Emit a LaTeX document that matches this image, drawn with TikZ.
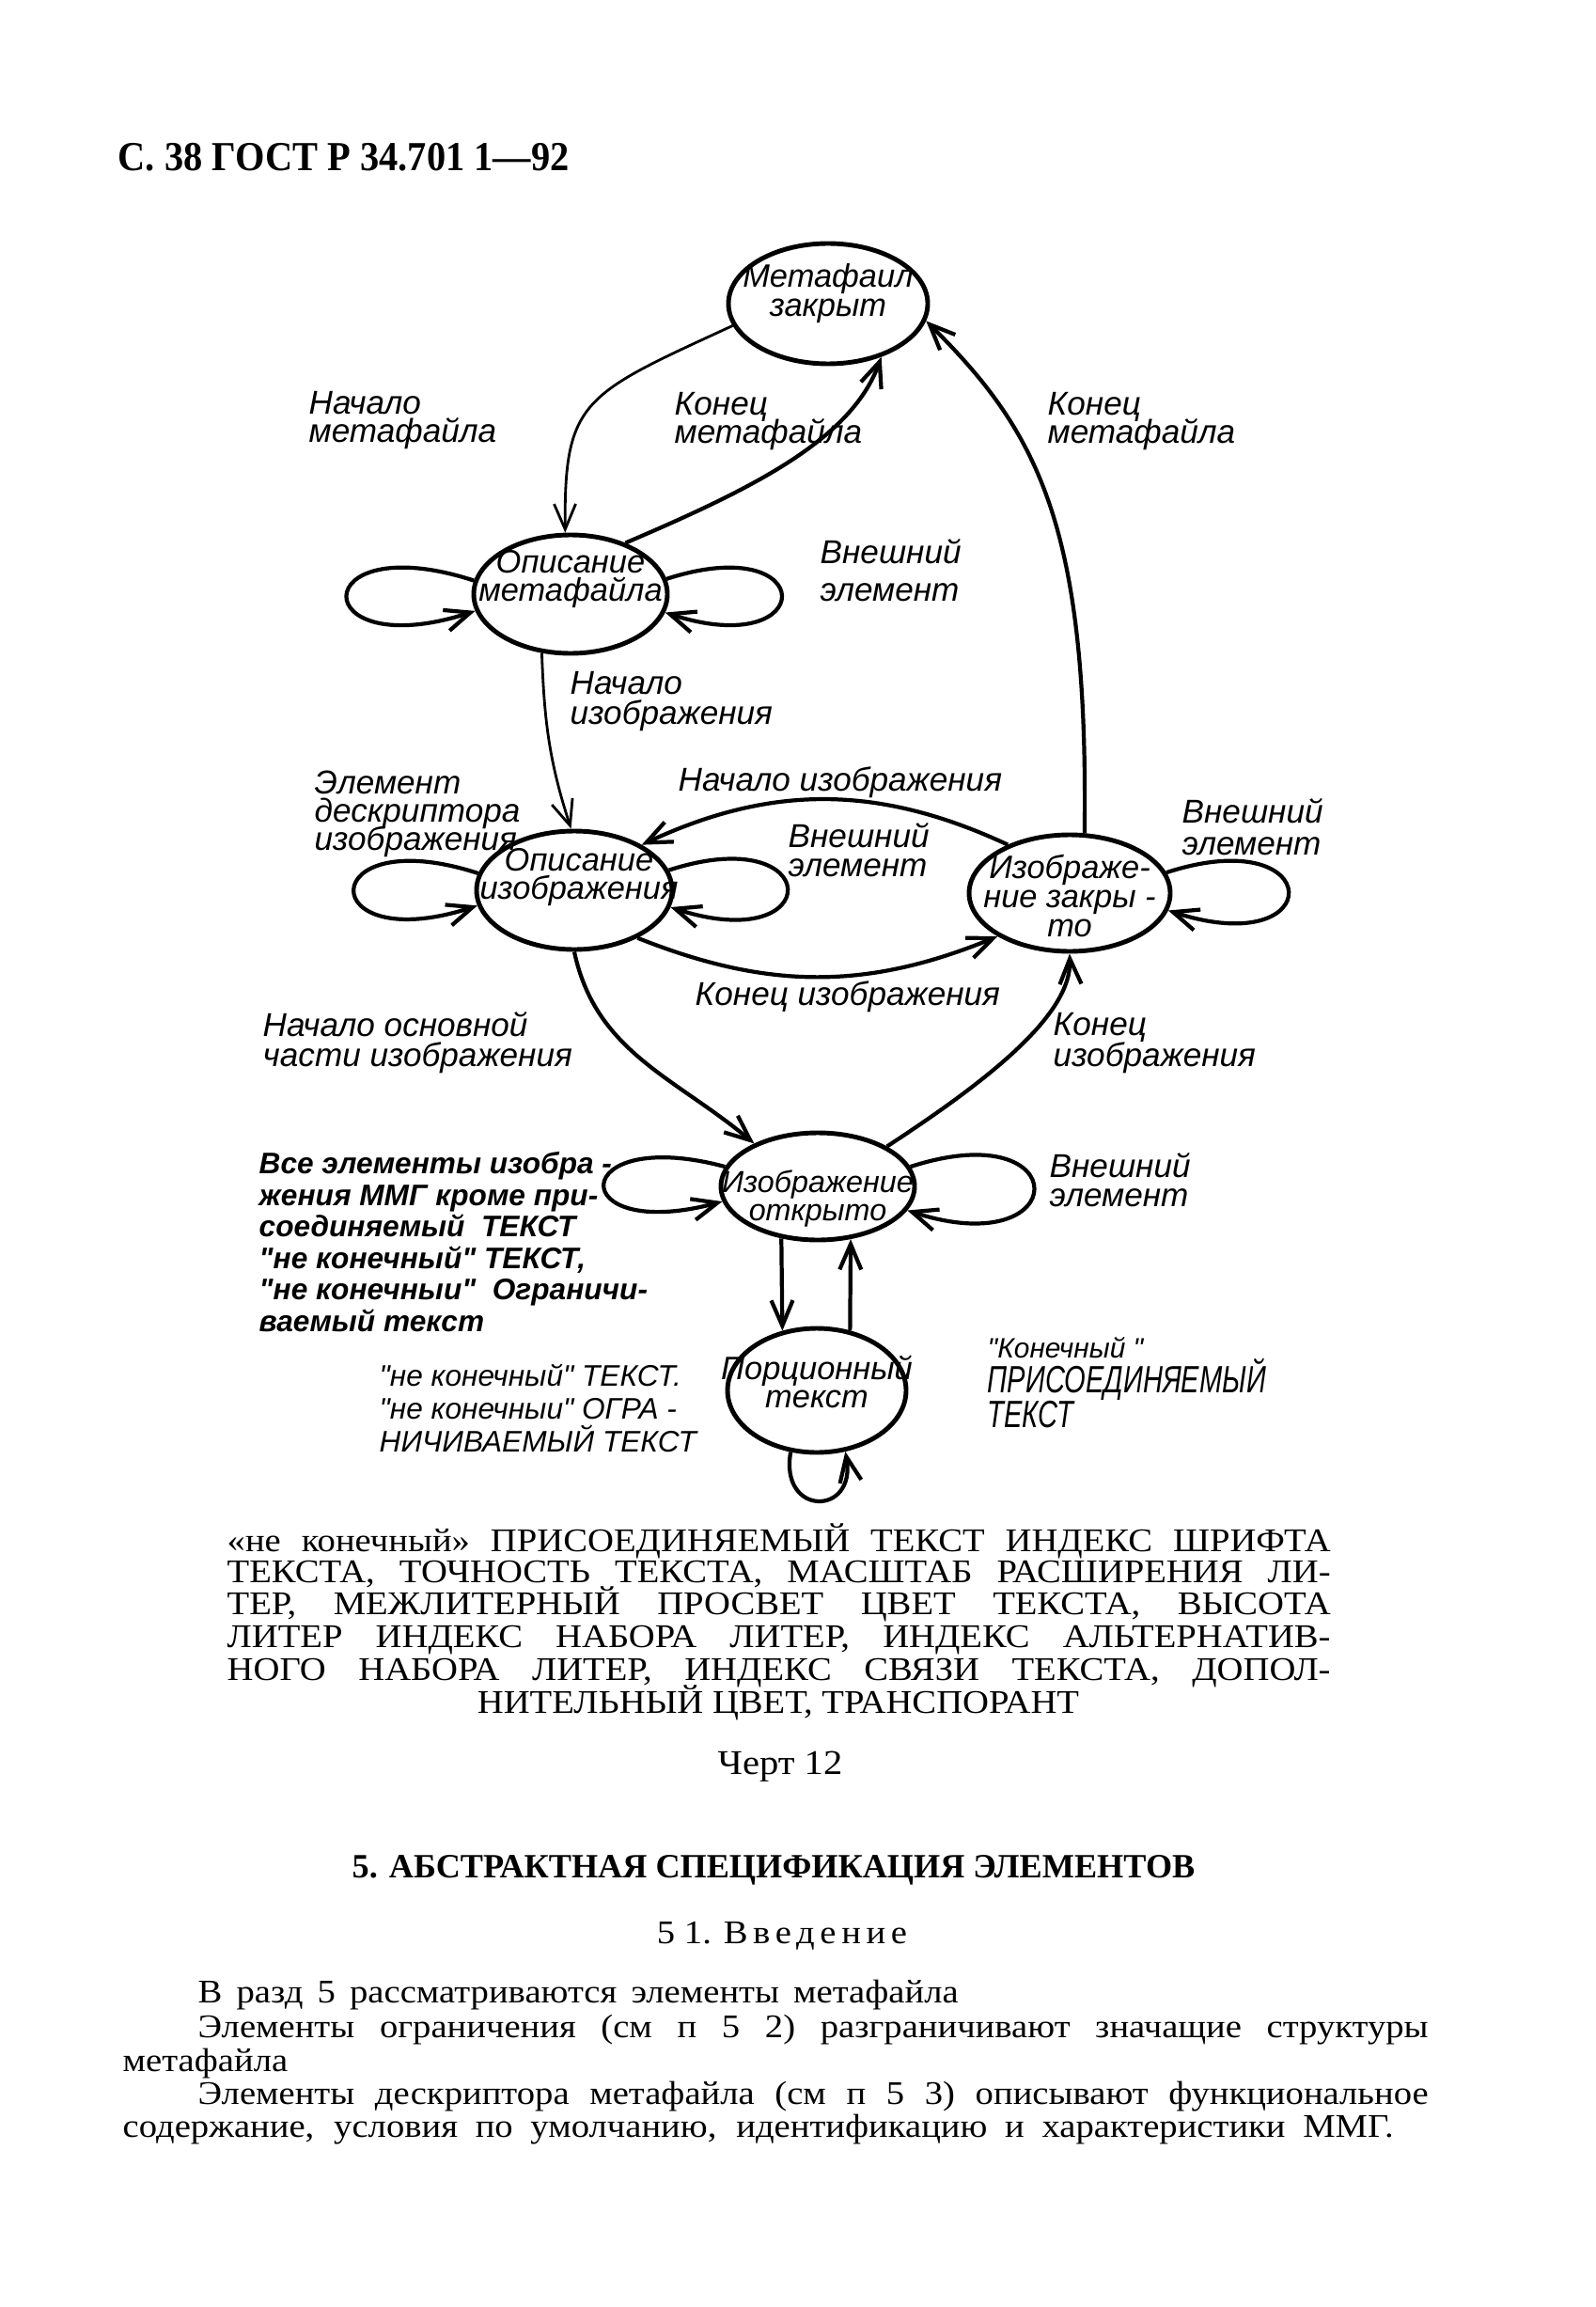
\documentclass[tikz,border=0pt]{standalone}
\usepackage{fontspec}
\setmainfont{Liberation Serif}
\newfontfamily\bodyfont{Liberation Serif}[FakeStretch=1.1]
\newfontfamily\pagefont{Liberation Serif}[FakeStretch=0.92]
\newfontfamily\gost{Liberation Sans}
\newfontfamily\gostnarrow{Liberation Sans}[FakeStretch=0.72]
\usetikzlibrary{shapes.geometric,arrows.meta}
\newcommand\gostfont[2]{\gost\itshape\fontsize{#1}{#2}\selectfont\lineskiplimit=-6pt}
\newcommand\bodytext[1]{\bodyfont\fontsize{#1}{11}\selectfont}

\begin{document}
\begin{tikzpicture}[>={Straight Barb[length=2.7mm,width=2.3mm]},
  state/.style={ellipse,draw,line width=1.4pt,inner sep=0pt},
  stext/.style={inner sep=0pt,align=center,font=\gostfont{9.8}{8.7}},
  trans/.style={->,line width=1.2pt},
  thintrans/.style={->,line width=0.8pt},
  note/.style={anchor=west,inner sep=0pt,align=left,font=\gostfont{10}{8.6}},
  textline/.style={anchor=base west,inner sep=0pt,font=\bodytext{10}}]
  \fill[white] (0,0) rectangle (16.98,-24.54);
  \useasboundingbox (0,0) rectangle (16.98,-24.54);

  \node[anchor=base west,inner sep=0pt,font=\pagefont\bfseries\fontsize{12.5}{14}\selectfont] (pagehead) at (1.25,-1.82) {С. 38 ГОСТ Р 34.701 1—92};

  \node[state,minimum width=21.2mm,minimum height=12.8mm] (mfclosed) at (8.81,-3.23) {};
  \node[state,minimum width=20.6mm,minimum height=12.6mm] (mfdesc) at (6.07,-6.32) {};
  \node[state,minimum width=20.8mm,minimum height=12.6mm] (picdesc) at (6.11,-9.47) {};
  \node[state,minimum width=21.4mm,minimum height=12.4mm] (picclosed) at (11.38,-9.50) {};
  \node[state,minimum width=20.6mm,minimum height=11.4mm] (picopen) at (8.70,-12.62) {};
  \node[state,minimum width=19.0mm,minimum height=13.2mm] (parttext) at (8.69,-14.79) {};

  \node[stext,yshift=1.1mm] (mfclosed-t) at (mfclosed) {Метафаил\\закрыт};
  \node[stext,yshift=1.6mm] (mfdesc-t) at (mfdesc) {Описание\\метафайла};
  \node[stext,yshift=1.4mm,xshift=0.5mm] (picdesc-t) at (picdesc) {Описание\\изображения};
  \node[stext,yshift=-0.3mm] (picclosed-t) at (picclosed) {Изображе-\\ние закры -\\то};
  \node[stext,yshift=-1.3mm,font=\gostfont{9.2}{8.7}] (picopen-t) at (picopen) {Изображение\\открыто};
  \node[stext,yshift=0.9mm] (parttext-t) at (parttext) {Порционный\\текст};

  \draw[thintrans] (mfclosed.193) .. controls (6.2,-4.2) and (6.0,-4.25) .. (mfdesc.95);
  \draw[trans] (mfdesc.43) .. controls (8.0,-5.2) and (9.06,-4.68) .. (mfclosed.-45);
  \draw[trans] (picclosed.76) .. controls (11.58,-5.6) and (11.05,-4.6) .. (mfclosed.-10);
  \draw[thintrans] (mfdesc.-116) to[out=-88,in=108] (picdesc.93);
  \draw[trans] (picclosed.142) to[bend right=25] (picdesc.34);
  \draw[trans] (picdesc.-37) to[bend right=22] (picclosed.-149);
  \draw[trans] (picdesc.-90) to[out=-78,in=140] (picopen.146);
  \draw[trans] (picopen.30) .. controls (10.5,-11.5) and (11.4,-10.8) .. (picclosed.-90);
  \draw[trans] (picopen.-125) -- (parttext.120);
  \draw[trans] (parttext.61) -- (picopen.-58);

  \draw[trans] (mfdesc.172) .. controls +(162:1.9) and +(198:1.9) .. (mfdesc.190);
  \draw[trans] (mfdesc.9) .. controls +(18:1.72) and +(-18:1.72) .. (mfdesc.-11);
  \draw[trans] (picdesc.170) .. controls +(162:1.84) and +(198:1.84) .. (picdesc.189);
  \draw[trans] (picdesc.12) .. controls +(18:1.75) and +(-18:1.75) .. (picdesc.-10);
  \draw[trans] (picclosed.12) .. controls +(18:1.8) and +(-18:1.8) .. (picclosed.-10);
  \draw[trans] (picopen.168) .. controls +(165:1.75) and +(195:1.75) .. (picopen.189);
  \draw[trans] (picopen.12) .. controls +(18:1.86) and +(-18:1.86) .. (picopen.-15);
  \draw[trans] (parttext.-113) .. controls +(-100:0.7) and +(-80:0.7) .. (parttext.-65);

  \node[note] (mfstart) at (3.28,-4.47) {Начало\\метафайла};
  \node[note] (mfend) at (7.17,-4.48) {Конец\\метафайла};
  \node[note] (mfend-r) at (11.14,-4.48) {Конец\\метафайла};
  \node[note,font=\gostfont{10}{11.4}] (ext-mf) at (8.72,-6.07) {Внешний\\элемент};
  \node[note,font=\gostfont{10}{9.2}] (picstart) at (6.06,-7.46) {Начало\\изображения};
  \node[note] (descr) at (3.34,-8.66) {Элемент\\дескриптора\\изображения};
  \node[note] (picstart-top) at (7.21,-8.32) {Начало изображения};
  \node[note,font=\gostfont{10}{9}] (ext-pd) at (8.38,-9.04) {Внешний\\элемент};
  \node[note,font=\gostfont{10}{9.6}] (ext-pc) at (12.57,-8.80) {Внешний\\элемент};
  \node[note] (picend-bot) at (7.39,-10.60) {Конец изображения};
  \node[note,font=\gostfont{10}{9}] (bodystart) at (2.79,-11.09) {Начало основной\\части изображения};
  \node[note,font=\gostfont{10}{9.4}] (picend) at (11.20,-11.10) {Конец\\изображения};
  \node[note,font=\gostfont{9}{9.55}\bfseries] (allelem) at (2.75,-13.21) {Все элементы изобра -\\жения ММГ кроме при-\\соединяемый~~ТЕКСТ\\"не конечный" ТЕКСТ,\\"не конечныи"~~Ограничи-\\ваемый текст};
  \node[note,font=\gostfont{10}{9}] (ext-po) at (11.16,-12.55) {Внешний\\элемент};
  \node[note,font=\gostfont{9}{10}] (notfinal) at (4.03,-14.98) {"не конечный" ТЕКСТ.\\"не конечныи" ОГРА -\\НИЧИВАЕМЫЙ ТЕКСТ};
  \node[note,font=\gostnarrow\itshape\fontsize{11.5}{10.5}\selectfont] (final) at (10.50,-14.71) {{\gostfont{8.5}{10.5}"Конечный "}\\ПРИСОЕДИНЯЕМЫЙ\\ТЕКСТ};

  \node[textline] (cap1) at (2.41,-16.50) {\makebox[117.4mm][s]{«не конечный» ПРИСОЕДИНЯЕМЫЙ ТЕКСТ ИНДЕКС ШРИФТА}};
  \node[textline] (cap2) at (2.41,-16.83) {\makebox[117.4mm][s]{ТЕКСТА, ТОЧНОСТЬ ТЕКСТА, МАСШТАБ РАСШИРЕНИЯ ЛИ-}};
  \node[textline] (cap3) at (2.41,-17.17) {\makebox[117.4mm][s]{ТЕР, МЕЖЛИТЕРНЫЙ ПРОСВЕТ ЦВЕТ ТЕКСТА, ВЫСОТА}};
  \node[textline] (cap4) at (2.41,-17.52) {\makebox[117.4mm][s]{ЛИТЕР ИНДЕКС НАБОРА ЛИТЕР, ИНДЕКС АЛЬТЕРНАТИВ-}};
  \node[textline] (cap5) at (2.41,-17.87) {\makebox[117.4mm][s]{НОГО НАБОРА ЛИТЕР, ИНДЕКС СВЯЗИ ТЕКСТА, ДОПОЛ-}};
  \node[textline,anchor=base] (cap6) at (8.28,-18.22) {НИТЕЛЬНЫЙ ЦВЕТ, ТРАНСПОРАНТ};
  \node[textline,anchor=base,font=\bodytext{10.5}] (figno) at (8.30,-18.87) {Черт 12};

  \node[anchor=base,inner sep=0pt,font=\bfseries\fontsize{10.3}{12}\selectfont] (section) at (8.23,-19.97) {5. АБСТРАКТНАЯ СПЕЦИФИКАЦИЯ ЭЛЕМЕНТОВ};
  \node[textline,anchor=base] (subsection) at (8.32,-20.67) {5 1. {\addfontfeature{LetterSpace=16}Введение}};
  \node[textline] (par1) at (2.10,-21.30) {\makebox[80.9mm][s]{В разд 5 рассматриваются элементы метафайла}};
  \node[textline] (par2a) at (2.10,-21.67) {\makebox[130.9mm][s]{Элементы ограничения (см п 5 2) разграничивают значащие структуры}};
  \node[textline] (par2b) at (1.30,-22.03) {метафайла};
  \node[textline] (par3a) at (2.10,-22.38) {\makebox[130.9mm][s]{Элементы дескриптора метафайла (см п 5 3) описывают функциональное}};
  \node[textline] (par3b) at (1.30,-22.73) {\makebox[135.2mm][s]{содержание, условия по умолчанию, идентификацию и характеристики ММГ.}};
\end{tikzpicture}
\end{document}
